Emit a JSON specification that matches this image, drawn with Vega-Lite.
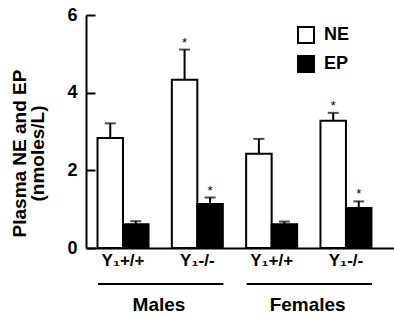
{
  "$schema": "https://vega.github.io/schema/vega-lite/v6.json",
  "autosize": "none",
  "padding": {"left": 86, "top": 15, "right": 0, "bottom": 68},
  "width": 308,
  "height": 233,
  "config": {
    "view": {"stroke": null},
    "font": "Liberation Sans",
    "text": {"font": "Liberation Sans"}
  },
  "datasets": {
    "bars": [
      {"group": "M+/+", "substance": "NE", "value": 2.83, "hi": 3.21, "star": ""},
      {"group": "M+/+", "substance": "EP", "value": 0.61, "hi": 0.69, "star": ""},
      {"group": "M-/-", "substance": "NE", "value": 4.33, "hi": 5.11, "star": "*"},
      {"group": "M-/-", "substance": "EP", "value": 1.13, "hi": 1.3, "star": "*"},
      {"group": "F+/+", "substance": "NE", "value": 2.43, "hi": 2.81, "star": ""},
      {"group": "F+/+", "substance": "EP", "value": 0.61, "hi": 0.68, "star": ""},
      {"group": "F-/-", "substance": "NE", "value": 3.28, "hi": 3.48, "star": "*"},
      {"group": "F-/-", "substance": "EP", "value": 1.03, "hi": 1.2, "star": "*"}
    ],
    "sexes": [
      {"sex": "Males", "from": "M+/+", "to": "M-/-"},
      {"sex": "Females", "from": "F+/+", "to": "F-/-"}
    ]
  },
  "layer": [
    {
      "data": {"name": "bars"},
      "mark": {"type": "bar", "stroke": "black", "strokeWidth": 2},
      "encoding": {
        "x": {
          "field": "group", "type": "nominal",
          "scale": {"domain": ["M+/+", "M-/-", "F+/+", "F-/-"], "paddingInner": 0.3136, "paddingOuter": 0.229, "align": 0.338},
          "axis": {
            "title": null, "ticks": false, "domainColor": "black", "domainWidth": 2,
            "labelAngle": 0, "labelFontSize": 17, "labelFontWeight": "bold", "labelColor": "black",
            "labelPadding": 4, "labelFont": "Liberation Sans",
            "labelExpr": "'Y\u2081' + substring(datum.value, 1)"
          }
        },
        "xOffset": {"field": "substance", "type": "nominal", "scale": {"domain": ["NE", "EP"], "paddingInner": 0, "paddingOuter": 0}},
        "y": {
          "field": "value", "type": "quantitative",
          "scale": {"domain": [0, 6], "nice": false},
          "axis": {
            "orient": "left",
            "values": [0, 1, 2, 3, 4, 5, 6],
            "tickSize": -9, "tickWidth": 2, "tickColor": "black",
            "domainColor": "black", "domainWidth": 2, "grid": false,
            "labelFontSize": 18, "labelFontWeight": "bold", "labelColor": "black", "labelPadding": 18,
            "labelFont": "Liberation Sans",
            "title": ["Plasma NE and EP", "(nmoles/L)"],
            "titleFontSize": 19, "titleFontWeight": "bold", "titleColor": "black", "titleFont": "Liberation Sans",
            "titleLineHeight": 18, "titleBaseline": "top", "titleAngle": -90,
            "titleX": -76, "titleY": 138, "titleAlign": "center"
          }
        },
        "fill": {
          "field": "substance", "type": "nominal",
          "scale": {"domain": ["NE", "EP"], "range": ["white", "black"]},
          "legend": {
            "title": null, "orient": "none", "legendX": 211, "legendY": 11,
            "symbolType": "square", "symbolSize": 256, "symbolStrokeColor": "black", "symbolStrokeWidth": 2,
            "labelFontSize": 18, "labelFontWeight": "bold", "labelColor": "black", "labelFont": "Liberation Sans",
            "labelOffset": 9, "rowPadding": 5
          }
        }
      }
    },
    {
      "data": {"name": "bars"},
      "mark": {"type": "rule", "strokeWidth": 2, "color": "black"},
      "encoding": {
        "x": {"field": "group", "type": "nominal"},
        "xOffset": {"field": "substance", "type": "nominal"},
        "y": {"field": "value", "type": "quantitative"},
        "y2": {"field": "hi"}
      }
    },
    {
      "data": {"name": "bars"},
      "mark": {"type": "tick", "orient": "horizontal", "size": 11, "thickness": 2, "color": "black"},
      "encoding": {
        "x": {"field": "group", "type": "nominal"},
        "xOffset": {"field": "substance", "type": "nominal"},
        "y": {"field": "hi", "type": "quantitative"}
      }
    },
    {
      "data": {"name": "bars"},
      "mark": {"type": "text", "fontSize": 13, "dy": -3, "baseline": "alphabetic", "color": "black"},
      "encoding": {
        "x": {"field": "group", "type": "nominal"},
        "xOffset": {"field": "substance", "type": "nominal"},
        "y": {"field": "hi", "type": "quantitative"},
        "text": {"field": "star"}
      }
    },
    {
      "data": {"name": "sexes"},
      "mark": {"type": "rule", "strokeWidth": 2, "color": "black", "xOffset": -25, "x2Offset": 26},
      "encoding": {
        "x": {"field": "from", "type": "nominal"},
        "x2": {"field": "to"},
        "y": {"datum": -0.93, "type": "quantitative"}
      }
    },
    {
      "data": {"name": "sexes"},
      "mark": {"type": "text", "fontSize": 19, "fontWeight": "bold", "color": "black", "baseline": "middle", "xOffset": 36},
      "encoding": {
        "x": {"field": "from", "type": "nominal"},
        "y": {"datum": -1.47, "type": "quantitative"},
        "text": {"field": "sex"}
      }
    }
  ]
}
